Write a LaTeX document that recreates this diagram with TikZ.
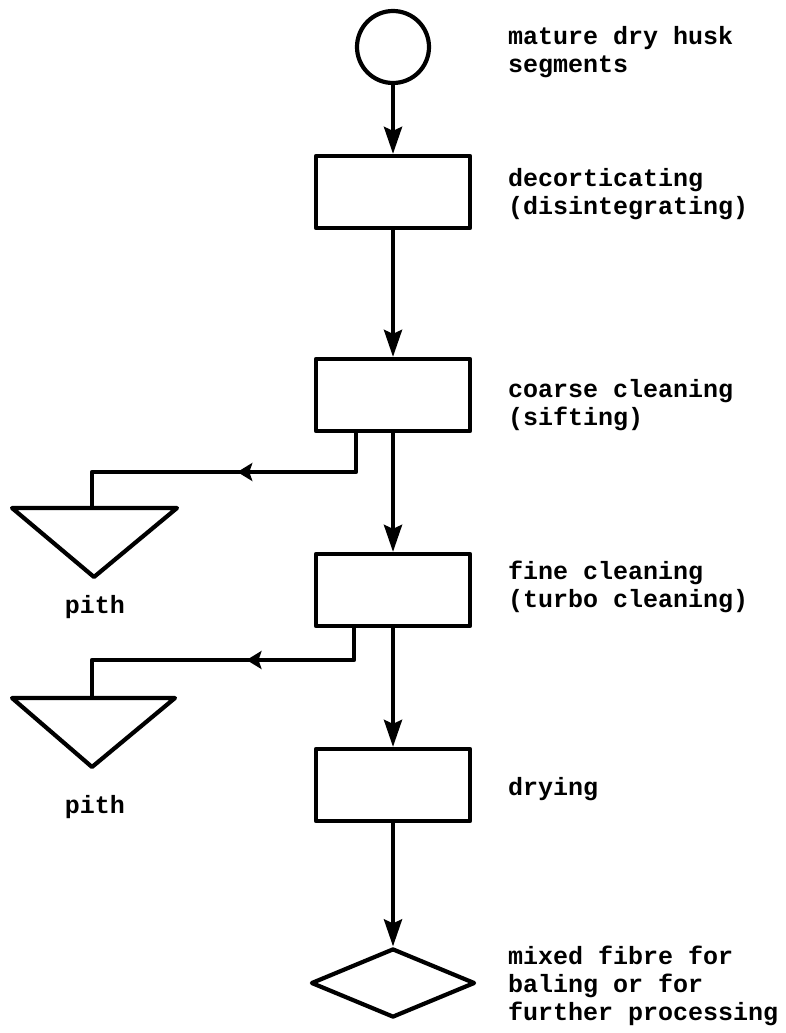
\documentclass[tikz,border=0pt]{standalone}
\usepackage{fontspec}
\setmonofont{Liberation Mono}
\usetikzlibrary{arrows.meta,shapes.geometric,decorations.markings}
\begin{document}
\begin{tikzpicture}[x=1pt,y=-1pt,
  line/.style={line width=4.2pt, line join=round},
  stage/.style={draw, line width=4.2pt, line join=round, minimum width=154pt, minimum height=72pt, inner sep=0pt},
  source/.style={circle, draw, line width=4.2pt, minimum size=72pt, inner sep=0pt},
  product/.style={diamond, draw, line width=4.2pt, line join=round, minimum width=164pt, minimum height=69pt, inner sep=0pt},
  flow/.style={line width=4.2pt, -{Stealth[length=27pt,width=18pt,inset=4pt]}},
  reject/.style={line width=4.2pt, line join=round, postaction={decorate},
    decoration={markings, mark=at position #1 with {\arrow{Stealth[length=15pt,width=18pt,inset=3pt]}}}},
  lbl/.style={font=\ttfamily\bfseries\fontsize{25}{28}\selectfont, align=left, inner sep=0pt, anchor=base west},
]
\useasboundingbox (0,0) rectangle (785,1033);

% main line
\node[source] (src) at (393,47) {};
\node[stage] (b1) at (393,192) {};
\node[stage] (b2) at (393,395) {};
\node[stage] (b3) at (393,590) {};
\node[stage] (b4) at (393,785) {};
\node[product] (out) at (393,983) {};

\draw[flow] (src) -- (b1);
\draw[flow] (b1) -- (b2);
\draw[flow] (b2) -- (b3);
\draw[flow] (b3) -- (b4);
\draw[flow] (b4) -- (out);

% pith outlets
\coordinate (k1) at (356,472);
\coordinate (p1) at (92,508);
\coordinate (t1l) at (12,508);
\coordinate (t1r) at (177,508);
\coordinate (t1b) at (94,577);
\draw[line] (t1l) -- (t1r) -- (t1b) -- cycle;
\draw[reject=0.465] (b2.south -| k1) -- (k1) -- (k1 -| p1) -- (p1);

\coordinate (k2) at (354,660);
\coordinate (p2) at (92,698);
\coordinate (t2l) at (12,698);
\coordinate (t2r) at (175,698);
\coordinate (t2b) at (92,767);
\draw[line] (t2l) -- (t2r) -- (t2b) -- cycle;
\draw[reject=0.42] (b3.south -| k2) -- (k2) -- (k2 -| p2) -- (p2);

% labels (the base anchor of a multi-line label sits on its last line)
\node[lbl] (l0) at (508,72) {mature dry husk\\segments};
\node[lbl] (l1) at (508,214) {decorticating\\(disintegrating)};
\node[lbl] (l2) at (508,425) {coarse cleaning\\(sifting)};
\node[lbl] (l3) at (508,607) {fine cleaning\\(turbo cleaning)};
\node[lbl] (l4) at (508,795) {drying};
\node[lbl] (l5) at (508,1020) {mixed fibre for\\baling or for\\further processing};
\node[lbl, anchor=base] (q1) at (95,613) {pith};
\node[lbl, anchor=base] (q2) at (95,813) {pith};
\end{tikzpicture}
\end{document}
